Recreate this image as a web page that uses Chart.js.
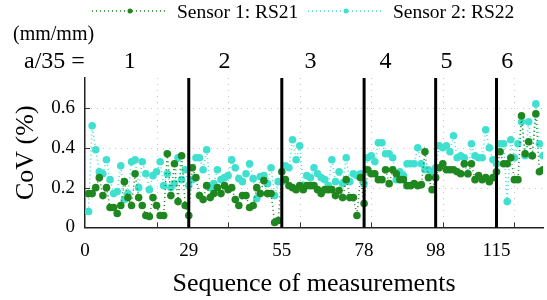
<!DOCTYPE html>
<html>
<head>
<meta charset="utf-8">
<script src="https://cdn.jsdelivr.net/npm/chart.js@4.4.1/dist/chart.umd.min.js"></script>
<style>
  html, body { margin: 0; padding: 0; background: #fff; }
  #wrap { width: 547px; height: 300px; }
</style>
</head>
<body>
<div id="wrap"><canvas id="covChart"></canvas></div>
<script>
var sensor1 = [
  0.17, 0.17, 0.20, 0.25, 0.16, 0.20, 0.10, 0.10, 0.07, 0.11,
  0.23, 0.15, 0.11, 0.27, 0.15, 0.11, 0.06, 0.055, 0.15, 0.11,
  0.06, 0.06, 0.37, 0.16, 0.32, 0.13, 0.36, 0.11, 0.06,
  0.30, 0.25, 0.16, 0.14, 0.21, 0.15, 0.17, 0.20, 0.17, 0.21,
  0.19, 0.20, 0.14, 0.11, 0.16, 0.16, 0.10, 0.11, 0.20, 0.17,
  0.235, 0.17, 0.17, 0.025, 0.035, 0.28,
  0.24, 0.21, 0.20, 0.19, 0.21, 0.19, 0.21, 0.21, 0.21, 0.19,
  0.17, 0.19, 0.19, 0.19, 0.16, 0.185, 0.15, 0.24, 0.15, 0.15,
  0.06, 0.25, 0.12,
  0.29, 0.27, 0.27, 0.24, 0.24, 0.29, 0.22, 0.29, 0.27, 0.24,
  0.24, 0.21, 0.21, 0.22, 0.21, 0.215, 0.38, 0.25, 0.19, 0.25,
  0.30, 0.32, 0.29, 0.29, 0.29, 0.28, 0.27, 0.32, 0.27, 0.32,
  0.24, 0.26, 0.24, 0.25, 0.23, 0.25, 0.28,
  0.38, 0.32, 0.32, 0.35, 0.24, 0.24, 0.56, 0.37, 0.43, 0.36,
  0.57, 0.28, 0.29
];
var sensor2 = [
  0.08, 0.51, 0.39, 0.28, 0.27, 0.34, 0.24, 0.17, 0.18, 0.31,
  0.14, 0.17, 0.33, 0.34, 0.20, 0.33, 0.27, 0.19, 0.26, 0.28,
  0.33, 0.21, 0.27, 0.20, 0.22, 0.35, 0.24, 0.29, 0.21,
  0.24, 0.35, 0.35, 0.29, 0.39, 0.20, 0.22, 0.29, 0.24, 0.25,
  0.26, 0.34, 0.30, 0.245, 0.23, 0.27, 0.32, 0.245, 0.145, 0.255,
  0.26, 0.22, 0.30, 0.16, 0.23, 0.23,
  0.31, 0.30, 0.44, 0.34, 0.41, 0.21, 0.26, 0.25, 0.30, 0.27,
  0.25, 0.24, 0.21, 0.34, 0.23, 0.28, 0.22, 0.35, 0.23, 0.27,
  0.26, 0.27, 0.22,
  0.35, 0.36, 0.33, 0.425, 0.425, 0.37, 0.37, 0.35, 0.24, 0.28,
  0.26, 0.32, 0.32, 0.32, 0.40, 0.32, 0.29, 0.29, 0.28, 0.30,
  0.41, 0.40, 0.41, 0.38, 0.46, 0.35, 0.36, 0.35, 0.27, 0.42,
  0.36, 0.35, 0.35, 0.49, 0.40, 0.34, 0.32,
  0.42, 0.42, 0.13, 0.44, 0.35, 0.42, 0.53, 0.36, 0.53, 0.36,
  0.62, 0.42, 0.36
];
// crack length steps (a/35) and where each one starts
var boundaries = [0, 29, 55, 78, 98, 115];
var stepLabels = ['1', '2', '3', '4', '5', '6'];
var yTicks = [0, 0.2, 0.4, 0.6];
var gridX = [20, 40, 60, 80, 100, 120];

var green = '#1f871f';
var cyan = '#40e0d0';
var serif = '"Liberation Serif", "Times New Roman", serif';

function toPoints(arr) {
    return arr.map(function (v, i) { return { x: i + 1, y: v }; });
}

// dotted grid, thick step lines, top labels and legend
var decor = {
    id: 'decor',
    beforeDatasetsDraw: function (chart) {
        var ctx = chart.ctx, a = chart.chartArea;
        var xs = chart.scales.x, ys = chart.scales.y;
        ctx.save();
        ctx.strokeStyle = '#c8c8c8';
        ctx.lineWidth = 1;
        ctx.setLineDash([1, 5]);
        gridX.forEach(function (v) {
            var px = Math.round(xs.getPixelForValue(v)) + 0.5;
            ctx.beginPath(); ctx.moveTo(px, a.top); ctx.lineTo(px, a.bottom); ctx.stroke();
        });
        yTicks.slice(1).forEach(function (v) {
            var py = Math.round(ys.getPixelForValue(v)) + 0.5;
            ctx.beginPath(); ctx.moveTo(a.left, py); ctx.lineTo(a.right, py); ctx.stroke();
        });
        ctx.setLineDash([]);
        ctx.strokeStyle = '#333';
        ctx.lineWidth = 1;
        gridX.forEach(function (v) {
            var px = Math.round(xs.getPixelForValue(v)) + 0.5;
            ctx.beginPath(); ctx.moveTo(px, a.bottom); ctx.lineTo(px, a.bottom - 5); ctx.stroke();
        });
        yTicks.slice(1).forEach(function (v) {
            var py = Math.round(ys.getPixelForValue(v)) + 0.5;
            ctx.beginPath(); ctx.moveTo(a.left, py); ctx.lineTo(a.left + 5, py); ctx.stroke();
        });
        ctx.restore();
    },
    afterDatasetsDraw: function (chart) {
        var ctx = chart.ctx, a = chart.chartArea;
        var xs = chart.scales.x;
        ctx.save();
        ctx.strokeStyle = '#000';
        ctx.lineWidth = 3;
        boundaries.slice(1).forEach(function (v) {
            var px = xs.getPixelForValue(v);
            ctx.beginPath(); ctx.moveTo(px, a.top); ctx.lineTo(px, a.bottom); ctx.stroke();
        });

        // a/35 labels
        ctx.fillStyle = '#000';
        ctx.textBaseline = 'middle';
        ctx.textAlign = 'center';
        ctx.font = '24px ' + serif;
        var labelAt = [12.5, 39, 63, 84, 101, 118];
        stepLabels.forEach(function (t, i) {
            ctx.fillText(t, xs.getPixelForValue(labelAt[i]), 62);
        });
        ctx.textAlign = 'left';
        ctx.fillText('a/35 =', 24, 62);
        ctx.font = '20px ' + serif;
        ctx.fillText('(mm/mm)', 13, 35);

        // legend
        var items = [
            { label: 'Sensor 1: RS21', color: green, x0: 92 },
            { label: 'Sensor 2: RS22', color: cyan, x0: 308 }
        ];
        items.forEach(function (it) {
            ctx.strokeStyle = it.color;
            ctx.lineWidth = 1.5;
            ctx.setLineDash([1, 3]);
            ctx.beginPath(); ctx.moveTo(it.x0, 11); ctx.lineTo(it.x0 + 73, 11); ctx.stroke();
            ctx.setLineDash([]);
            ctx.fillStyle = it.color;
            ctx.beginPath(); ctx.arc(it.x0 + 38, 11, 2.5, 0, Math.PI * 2); ctx.fill();
            ctx.fillStyle = '#000';
            ctx.font = '19.5px ' + serif;
            ctx.textAlign = 'left';
            ctx.fillText(it.label, it.x0 + 85, 13);
        });
        ctx.restore();
    }
};

var covChart = new Chart(document.getElementById('covChart').getContext('2d'), {
    type: 'scatter',
    data: {
        datasets: [{
            label: 'Sensor 1: RS21',
            data: toPoints(sensor1),
            showLine: true,
            borderColor: green,
            backgroundColor: green,
            borderWidth: 1.5,
            borderDash: [1, 3],
            pointRadius: 3.8,
            pointBorderWidth: 0
        }, {
            label: 'Sensor 2: RS22',
            data: toPoints(sensor2),
            showLine: true,
            borderColor: cyan,
            backgroundColor: cyan,
            borderWidth: 1.5,
            borderDash: [1, 3],
            pointRadius: 3.8,
            pointBorderWidth: 0
        }]
    },
    options: {
        responsive: true,
        maintainAspectRatio: false,
        animation: false,
        layout: { padding: { top: 78, right: 0, left: 0, bottom: 0 } },
        plugins: {
            legend: { display: false },
            tooltip: { enabled: false }
        },
        scales: {
            x: {
                type: 'linear',
                min: 0,
                max: 128,
                afterBuildTicks: function (s) {
                    s.ticks = boundaries.map(function (v) { return { value: v }; });
                },
                afterFit: function (s) { s.height = 72.5; },
                grid: { display: false, drawTicks: false },
                border: { color: '#222', width: 1.5 },
                ticks: {
                    padding: 12,
                    color: '#000',
                    maxRotation: 0,
                    autoSkip: false,
                    font: { family: serif, size: 19 }
                },
                title: {
                    display: true,
                    text: 'Sequence of measurements',
                    color: '#000',
                    padding: { top: 3, bottom: 0 },
                    font: { family: serif, size: 26 }
                }
            },
            y: {
                min: 0,
                max: 0.75,
                afterBuildTicks: function (s) {
                    s.ticks = yTicks.map(function (v) { return { value: v }; });
                },
                afterFit: function (s) { s.width = 85; },
                grid: { display: false, drawTicks: false },
                border: { color: '#222', width: 1.5 },
                ticks: {
                    padding: 10,
                    color: '#000',
                    font: { family: serif, size: 19 },
                    callback: function (v) { return String(+v.toFixed(1)); }
                },
                title: {
                    display: true,
                    text: 'CoV (%)',
                    color: '#000',
                    padding: { top: 11, bottom: 0 },
                    font: { family: serif, size: 26 }
                }
            }
        }
    },
    plugins: [decor]
});
</script>
</body>
</html>
